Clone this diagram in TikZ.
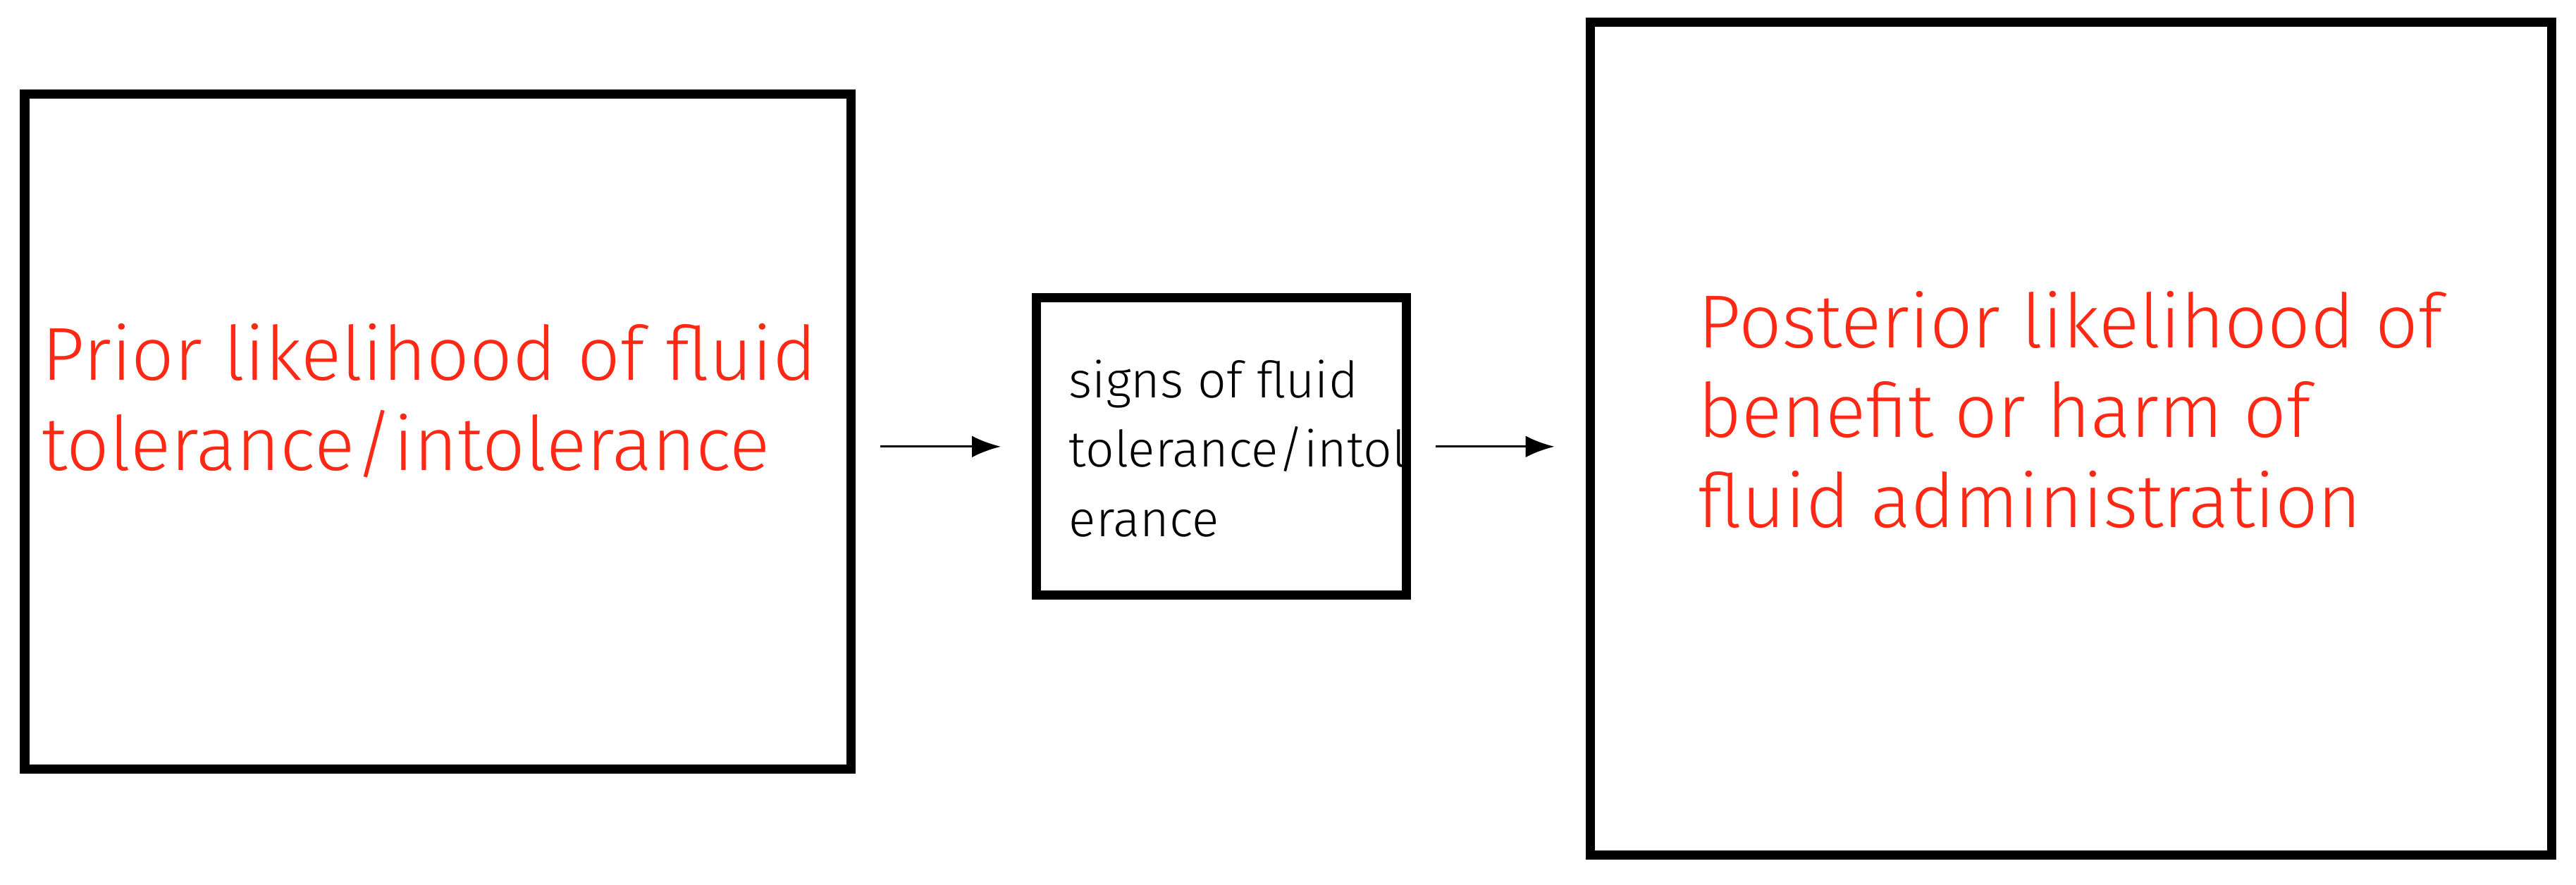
\documentclass[tikz,border=0pt]{standalone}
\usepackage{fontspec}
\setmainfont{Fira Sans Light}
\usetikzlibrary{arrows.meta}
\usetikzlibrary{positioning}
\definecolor{redtext}{RGB}{255, 40, 20}

\begin{document}
\begin{tikzpicture}
    \useasboundingbox (0,0) rectangle (15.68,5.384);
    \tikzset{box/.style={draw, line width=1.6pt},
             redlbl/.style={color=redtext, font=\fontsize{13}{15.6}\selectfont, align=left, anchor=north west, inner sep=0pt},
             flow/.style={-{Latex[length=5pt]}, thin, shorten >=0.19cm, shorten <=0.15cm}}
        \node[box, minimum width=5.03cm, minimum height=4.11cm] (prior)     at ( 2.665, 2.755) {};
        \node[box, minimum width=2.25cm, minimum height=1.81cm] (signs)     at ( 7.435, 2.665) {};
        \node[box, minimum width=5.85cm, minimum height=5.07cm] (posterior) at (12.605, 2.715) {};
        \node[redlbl] (priortxt) at (0.25,3.42) {Prior likelihood of fluid\\tolerance/intolerance};
        \node[redlbl, font=\fontsize{8.7}{12}\selectfont, color=black] (signstxt) at (6.50,3.20) {signs of fluid\\tolerance/intol\\erance};
        \node[redlbl] (posttxt) at (10.33,3.62) {Posterior likelihood of\\benefit or harm of\\fluid administration};
        \draw[flow] (signs.west -| prior.east) -- (signs.west);
        \draw[flow] (signs.east) -- (signs.east -| posterior.west);
\end{tikzpicture}
\end{document}
